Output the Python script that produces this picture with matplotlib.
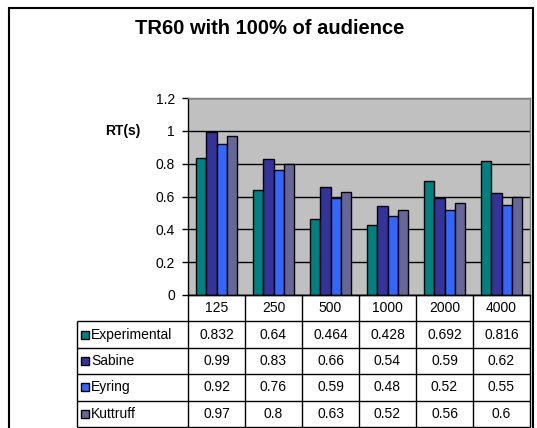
import numpy as np
import matplotlib
matplotlib.use('Agg')
import matplotlib.pyplot as plt
from matplotlib.patches import Rectangle

# data
freqs = ['125', '250', '500', '1000', '2000', '4000']
series = ['Experimental', 'Sabine', 'Eyring', 'Kuttruff']
experimental = [0.832, 0.64, 0.464, 0.428, 0.692, 0.816]
sabine = [0.99, 0.83, 0.66, 0.54, 0.59, 0.62]
eyring = [0.92, 0.76, 0.59, 0.48, 0.52, 0.55]
kuttruff = [0.97, 0.8, 0.63, 0.52, 0.56, 0.6]
colors = ['#008080', '#333399', '#3366ff', '#666699']

values = [experimental, sabine, eyring, kuttruff]

plt.rcParams['font.family'] = ['Liberation Sans', 'DejaVu Sans']
plt.rcParams['font.size'] = 10

W, H = 537, 428
fig = plt.figure(figsize=(W / 100, H / 100), dpi=100)


def px(x0, y0, x1, y1):
    return [x0 / W, 1 - y1 / H, (x1 - x0) / W, (y1 - y0) / H]


# bar chart
ax = fig.add_axes(px(188, 98, 530, 295))
x = np.arange(len(freqs))
bw = 0.184
for i, vals in enumerate(values):
    ax.bar(x + (i - 1.5) * bw, vals, bw, color=colors[i], edgecolor='black',
           linewidth=1, zorder=3)
ax.set_xlim(-0.5, len(freqs) - 0.5)
ax.set_ylim(0, 1.2)
ax.set_facecolor('#c0c0c0')
yt = [0, 0.2, 0.4, 0.6, 0.8, 1.0, 1.2]
ax.set_yticks(yt)
ax.set_yticklabels(['0', '0.2', '0.4', '0.6', '0.8', '1', '1.2'])
ax.yaxis.grid(True, color='black', linewidth=1)
ax.set_axisbelow(True)
ax.set_xticks([])
ax.tick_params(axis='y', length=4, width=1, pad=5.5, labelsize=10)
ax.spines['left'].set_color('black')
ax.spines['bottom'].set_color('black')
ax.spines['top'].set_color('#808080')
ax.spines['right'].set_color('#808080')
for s in ax.spines.values():
    s.set_linewidth(1)
ax.set_ylabel('RT(s)', rotation=0, fontweight='bold', ha='center', va='center')
ax.yaxis.set_label_coords((122.5 - 188) / 342, 1.0 / 1.2)

# data table under the chart
tax = fig.add_axes(px(77, 295, 530, 427))
lw = (188 - 77) / 57.0
left = -0.5 - lw
right = len(freqs) - 0.5
tax.set_xlim(left, right)
tax.set_ylim(len(series) + 1, 0)
tax.axis('off')

tax.hlines(0, -0.5, right, color='black', lw=1, clip_on=False)
tax.hlines(np.arange(1, len(series) + 2), left, right, color='black', lw=1, clip_on=False)
tax.vlines(np.arange(len(freqs) + 1) - 0.5, 0, len(series) + 1, color='black', lw=1, clip_on=False)
tax.vlines(left, 1, len(series) + 1, color='black', lw=1, clip_on=False)

for j, f in enumerate(freqs):
    tax.text(j, 0.5, f, ha='center', va='center', fontsize=10)

for i, (name, vals) in enumerate(zip(series, values)):
    yc = i + 1.5
    tax.plot(left + 8.5 / 57, yc, marker='s', ms=5.8, color=colors[i],
             markeredgecolor='black', markeredgewidth=1, clip_on=False)
    tax.text(left + 14 / 57, yc, name, ha='left', va='center', fontsize=10)
    for j, v in enumerate(vals):
        tax.text(j, yc, str(v), ha='center', va='center', fontsize=10)

fig.text(270 / W, 1 - 34 / H, 'TR60 with 100% of audience', ha='center', va='baseline',
         fontsize=14.5, fontweight='bold')

# outer chart frame
fig.add_artist(Rectangle((8.5 / W, -0.1), (532.5 - 8.5) / W, 1.1 - 7.5 / H,
                         transform=fig.transFigure, fill=False,
                         edgecolor='black', linewidth=1.5))

fig.savefig('out.png', dpi=100)
